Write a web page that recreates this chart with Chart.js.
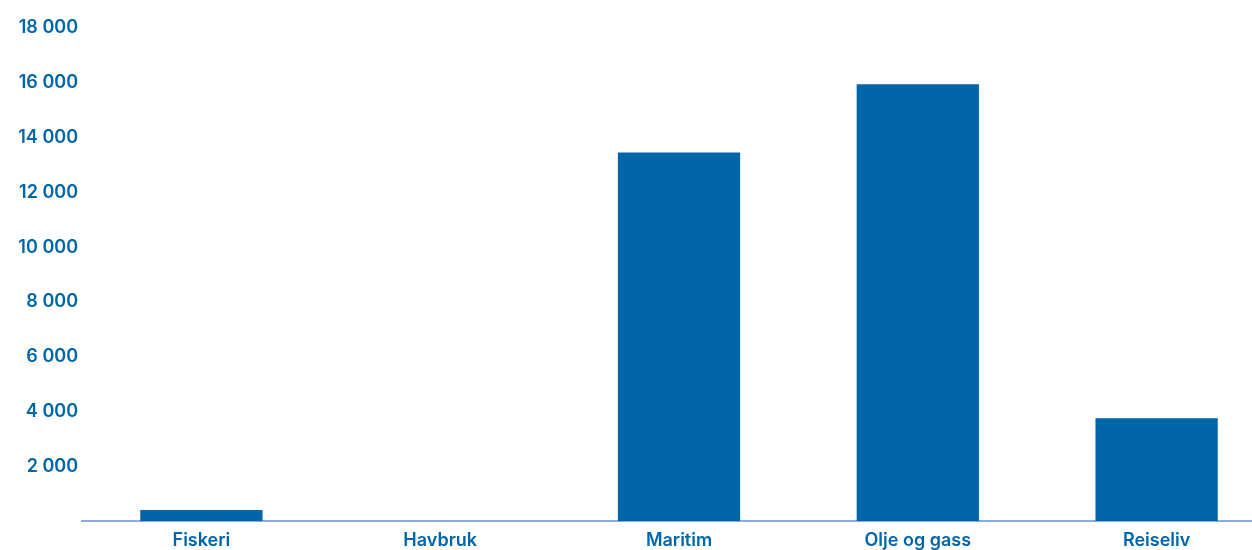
<!DOCTYPE html>
<html>
<head>
<meta charset="utf-8">
<script src="https://cdn.jsdelivr.net/npm/chart.js@4/dist/chart.umd.min.js"></script>
<style>
html,body{margin:0;padding:0;background:#fff;overflow:hidden;width:1252px;height:550px;}
canvas{display:block;}
</style>
</head>
<body>
<canvas id="c" width="1276" height="550"></canvas>
<script>
const categories = ["Fiskeri", "Havbruk", "Maritim", "Olje og gass", "Reiseliv"];
const values = [400, 0, 13450, 15950, 3750];
const yMax = 18000;
const yStep = 2000;

const blue = "#0065a9";
const fmt = v => v === 0 ? "" : String(v).replace(/\B(?=(\d{3})+(?!\d))/g, " ");
const tickFont = { family: "Inter", size: 18, weight: "600" };

new Chart(document.getElementById("c"), {
  type: "bar",
  data: {
    labels: categories,
    datasets: [{
      data: values,
      backgroundColor: blue,
      borderWidth: 0,
      categoryPercentage: 1,
      barPercentage: 0.512
    }]
  },
  options: {
    responsive: false,
    animation: false,
    layout: { padding: { top: 28, left: 0, right: 0, bottom: 0 } },
    plugins: { legend: { display: false }, tooltip: { enabled: false } },
    scales: {
      x: {
        grid: { display: false, drawTicks: false },
        border: { display: true, color: "#8eaad6", width: 2 },
        afterFit: s => { s.height = 29; },
        ticks: {
          color: blue,
          font: tickFont,
          padding: 9,
          maxRotation: 0
        }
      },
      y: {
        min: 0,
        max: yMax,
        grid: { display: false, drawTicks: false },
        border: { display: false },
        afterFit: s => { s.width = 82; },
        ticks: {
          stepSize: yStep,
          color: blue,
          font: tickFont,
          padding: 4,
          callback: v => fmt(v)
        }
      }
    }
  }
});
</script>
</body>
</html>
